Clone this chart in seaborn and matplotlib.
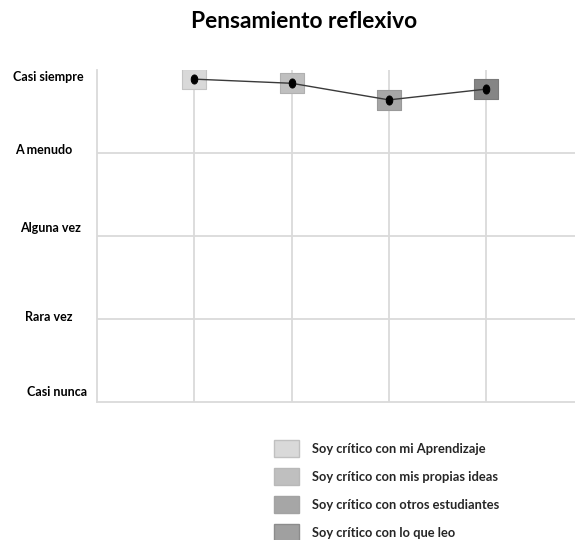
import numpy as np
import pandas as pd
import matplotlib
matplotlib.use("Agg")
import matplotlib.pyplot as plt
from matplotlib.patches import Patch
from matplotlib.path import Path
import seaborn as sns

# Survey items and their mean answer (1 = Casi nunca ... 5 = Casi siempre)
items = [
    "Soy crítico con mi Aprendizaje",
    "Soy crítico con mis propias ideas",
    "Soy crítico con otros estudiantes",
    "Soy crítico con lo que leo",
]
means = [4.89, 4.84, 4.64, 4.77]
scale_labels = ["Casi nunca", "Rara vez", "Alguna vez", "A menudo", "Casi siempre"]
scale_values = [1, 2, 3, 4, 5]
title = "Pensamiento reflexivo"

# Styling
box_colors = ["#d9d9d9", "#bfbfbf", "#a6a6a6", "#858585"]
box_edges = ["#c4c4c4", "#b0b0b0", "#999999", "#7a7a7a"]
legend_colors = ["#d9d9d9", "#bfbfbf", "#a6a6a6", "#a0a0a0"]
legend_edges = ["#c0c0c0", "#b8b8b8", "#a3a3a3", "#8c8c8c"]
grid_color = "#dadada"
# pixel nudges (dx right, dy up) for the scale labels, bottom to top
label_nudge = [(8, 10), (0, 2), (2, 8), (-5, 3), (-1, -7)]

sns.set_theme(style="white")
plt.rcParams["font.family"] = ["Lato", "DejaVu Sans"]

fig = plt.figure(figsize=(5.75, 5.4), dpi=100)
ax = fig.add_axes([97 / 575, 1 - 402 / 540, 1 - 97 / 575, (402 - 70) / 540])

df = pd.DataFrame({"x": np.arange(1, len(items) + 1), "item": items, "mean": means})

# grid
for xv in df["x"]:
    ax.axvline(xv, color=grid_color, lw=1.3, zorder=0)
for yv in scale_values[1:-1]:
    ax.axhline(yv, color=grid_color, lw=1.3, zorder=0)

# rectangular boxes behind each point
rect = [(-1.2, -1.0), (1.2, -1.0), (1.2, 1.0), (-1.2, 1.0), (-1.2, -1.0)]
sns.scatterplot(data=df, x="x", y="mean", hue="item", palette=box_colors,
                marker=rect, s=300, linewidth=0.8, legend=False, ax=ax, zorder=2)
for coll in ax.collections:
    coll.set_edgecolor(box_edges)

# line joining the means with small black elliptical markers
t = np.linspace(0, 2 * np.pi, 40)
ellipse = Path(np.column_stack([0.72 * np.cos(t), np.sin(t)]), closed=True)
sns.lineplot(data=df, x="x", y="mean", color="#3a3a3a", lw=1.0,
             marker=ellipse, markersize=6.5, markerfacecolor="black",
             markeredgecolor="black", ax=ax, zorder=4)

ax.set_xlim(0, 478 / 97.3)
ax.set_ylim(scale_values[0], scale_values[-1])
ax.set_xticks([])
ax.set_yticks([])
ax.set_xlabel("")
ax.set_ylabel("")
for side in ["top", "right"]:
    ax.spines[side].set_visible(False)
for side in ["left", "bottom"]:
    ax.spines[side].set_color(grid_color)
    ax.spines[side].set_linewidth(1.3)

# scale labels on the left
for lab, yv, (dx, dy) in zip(scale_labels, scale_values, label_nudge):
    ax.annotate(lab, xy=(-48 / 478, yv), xycoords=("axes fraction", "data"),
                xytext=(dx * 0.72, dy * 0.72), textcoords="offset points",
                ha="center", va="center", fontsize=9, fontweight="bold",
                color="black", annotation_clip=False)

fig.text(304 / 575, 1 - 22 / 540, title, ha="center", va="center",
         fontsize=16.4, fontweight="bold", color="black")

handles = [Patch(facecolor=c, edgecolor=e, linewidth=1.0)
           for c, e in zip(legend_colors, legend_edges)]
fig.legend(handles, items, loc="upper left",
           bbox_to_anchor=(274 / 575, 1 - 440 / 540), frameon=False,
           prop={"weight": "bold", "size": 9.3},
           handlelength=1.94, handleheight=1.7, handletextpad=1.0,
           labelspacing=0.82, borderpad=0, borderaxespad=0)

fig.savefig("out.png", dpi=100, facecolor="white")
